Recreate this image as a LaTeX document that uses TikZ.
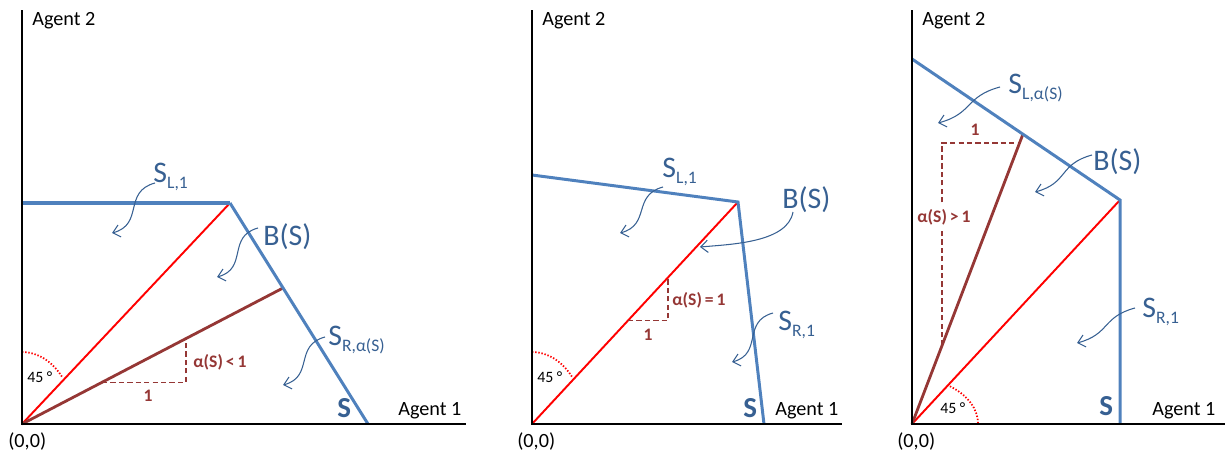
\documentclass[tikz,border=0pt]{standalone}
\usepackage{fontspec}
\setmainfont{Carlito}
\usepackage{tikz}
\usetikzlibrary{arrows.meta,calc}
\definecolor{azulLinea}{RGB}{79,129,189}
\definecolor{azulTexto}{RGB}{55,96,146}
\definecolor{marron}{RGB}{149,55,53}
\definecolor{rojo}{RGB}{255,0,0}
\newcommand{\subi}[1]{\raisebox{-3.5pt}{\fontsize{10}{10}\selectfont #1}}

\begin{document}
\begin{tikzpicture}[x=0.02cm, y=0.02cm,
  eje/.style={line width=1.7pt, black},
  frontera/.style={line width=1.7pt, azulLinea},
  rayo/.style={line width=1.1pt, rojo},
  rayoAlfa/.style={line width=1.6pt, marron},
  pendiente/.style={line width=0.7pt, marron, dash pattern=on 3pt off 1.8pt},
  arco/.style={line width=1pt, rojo, dash pattern=on 0.8pt off 1pt},
  flecha/.style={-{Straight Barb[length=4pt,width=7pt]}, line width=0.6pt, azulTexto},
  texto/.style={inner sep=0, anchor=base west, font=\fontsize{11.5}{12}\selectfont},
  etiq/.style={inner sep=0, anchor=base west, text=azulTexto, font=\fontsize{17}{18}\selectfont},
  conjunto/.style={inner sep=0, anchor=base west, text=azulTexto, font=\bfseries\fontsize{16.5}{16}\selectfont},
  medida/.style={inner sep=0, anchor=base west, text=marron, font=\bfseries\fontsize{10}{10}\selectfont},
  angulo/.style={inner sep=0, anchor=base west, font=\fontsize{9}{9}\selectfont}
]
\useasboundingbox (0,0) rectangle (1225,451);

% panel 1: alpha(S) < 1
\coordinate (O1) at (22,27);
\coordinate (Y1) at (22,441);
\coordinate (X1) at (466,27);
\coordinate (L1) at (22,248);
\coordinate (K1) at (230,248);
\coordinate (R1) at (368,27);
\coordinate (B1) at (283,163);
\coordinate (p1a) at ($(O1)!0.3065!(B1)$);
\coordinate (p1b) at ($(O1)!0.628!(B1)$);

\draw[rayo] (O1) -- (K1);
\draw[rayoAlfa] (O1) -- (B1);
\draw[pendiente] (p1a) -- (p1a -| p1b) -- (p1b);
\draw[arco] (22,99) arc[start angle=90, end angle=41, x radius=53, y radius=72];
\draw[frontera, line width=2.4pt] (L1) -- (K1);
\draw[frontera] (K1) -- (R1);
\draw[eje] (Y1) -- (O1) -- (X1);

\node[texto] (ag2a) at (32,426) {Agent 2};
\node[texto] (ag1a) at (398,36) {Agent 1};
\node[texto] (orig1) at (8,4) {(0,0)};
\node[angulo] (ang1) at (27,69) {45 °};
\node[medida] (alfa1) at (193,84) {α(S)\,<\,1};
\node[medida, anchor=base] (uno1) at (148,50) {1};
\node[etiq] (sl1) at (153,269) {S\subi{L,1}};
\node[etiq] (bs1) at (263,206) {B(S)};
\node[etiq] (sr1) at (328,106) {S\subi{R,α(S)}};
\node[conjunto] (s1) at (337,34) {S};

\coordinate (fa1i) at (155,268); \coordinate (fa1f) at (112,218);
\coordinate (fb1i) at (258,223); \coordinate (fb1f) at (217,174);
\coordinate (fc1i) at (325,114); \coordinate (fc1f) at (283,66);
\draw[flecha] (fa1i) to[out=195, in=15, looseness=1.3] (fa1f);
\draw[flecha] (fb1i) to[out=195, in=15, looseness=1.3] (fb1f);
\draw[flecha] (fc1i) to[out=195, in=15, looseness=1.3] (fc1f);

% panel 2: alpha(S) = 1
\coordinate (O2) at (532,27);
\coordinate (Y2) at (532,441);
\coordinate (X2) at (842,27);
\coordinate (L2) at (532,276);
\coordinate (K2) at (738,249);
\coordinate (R2) at (764,27);
\coordinate (p2a) at ($(O2)!0.466!(K2)$);
\coordinate (p2b) at ($(O2)!0.660!(K2)$);

\draw[rayo] (O2) -- (K2);
\draw[pendiente] (p2a) -- (p2a -| p2b) -- (p2b);
\draw[arco] (532,99) arc[start angle=90, end angle=41, x radius=53, y radius=72];
\draw[frontera] (L2) -- (K2) -- (R2);
\draw[eje] (Y2) -- (O2) -- (X2);

\node[texto] (ag2b) at (542,426) {Agent 2};
\node[texto] (ag1b) at (775,36) {Agent 1};
\node[texto] (orig2) at (517,4) {(0,0)};
\node[angulo] (ang2) at (537,69) {45 °};
\node[medida] (alfa2) at (672,146) {α(S)\,=\,1};
\node[medida, anchor=base] (uno2) at (648,111) {1};
\node[etiq] (sl2) at (662,274) {S\subi{L,1}};
\node[etiq] (bs2) at (782,243) {B(S)};
\node[etiq] (sr2) at (778,121) {S\subi{R,1}};
\node[conjunto] (s2) at (743,34) {S};

\coordinate (fa2i) at (663,264); \coordinate (fa2f) at (620,218);
\coordinate (fb2i) at (793,239); \coordinate (fb2f) at (700,204);
\coordinate (fc2i) at (773,138); \coordinate (fc2f) at (732,89);
\draw[flecha] (fa2i) to[out=195, in=15, looseness=1.3] (fa2f);
\draw[flecha] (fb2i) to[out=-100, in=5, looseness=0.8] (fb2f);
\draw[flecha] (fc2i) to[out=195, in=15, looseness=1.3] (fc2f);

% panel 3: alpha(S) > 1
\coordinate (O3) at (912,27);
\coordinate (Y3) at (912,441);
\coordinate (X3) at (1225,27);
\coordinate (L3) at (912,392);
\coordinate (K3) at (1120,251);
\coordinate (R3) at (1120,27);
\coordinate (B3) at (1023,317);
\coordinate (p3a) at ($(O3)!0.27!(B3)$);
\coordinate (p3b) at ($(O3)!0.969!(B3)$);

\draw[rayo] (O3) -- (K3);
\draw[rayoAlfa] (O3) -- (B3);
\draw[pendiente] (p3a) -- (p3a |- p3b) -- (p3b);
\draw[arco] (949.9,64.7) arc[start angle=55, end angle=0, x radius=66, y radius=46];
\draw[frontera] (L3) -- (K3) -- (R3);
\draw[eje] (Y3) -- (O3) -- (X3);

\node[texto] (ag2c) at (922,426) {Agent 2};
\node[texto] (ag1c) at (1152,36) {Agent 1};
\node[texto] (orig3) at (897,4) {(0,0)};
\node[angulo] (ang3) at (940,38) {45 °};
\node[medida, fill=white, inner ysep=3pt] (alfa3) at (917,229) {α(S)\,>\,1};
\node[medida, anchor=base] (uno3) at (975,316) {1};
\node[etiq] (sl3) at (1008,358) {S\subi{L,α(S)}};
\node[etiq] (bs3) at (1093,281) {B(S)};
\node[etiq] (sr3) at (1142,134) {S\subi{R,1}};
\node[conjunto] (s3) at (1099,36) {S};

\coordinate (fa3i) at (1000,364); \coordinate (fa3f) at (938,328);
\coordinate (fb3i) at (1092,296); \coordinate (fb3f) at (1035,259);
\coordinate (fc3i) at (1135,143); \coordinate (fc3f) at (1077,108);
\draw[flecha] (fa3i) to[out=195, in=15, looseness=1.3] (fa3f);
\draw[flecha] (fb3i) to[out=195, in=15, looseness=1.3] (fb3f);
\draw[flecha] (fc3i) to[out=195, in=15, looseness=1.3] (fc3f);
\end{tikzpicture}
\end{document}
